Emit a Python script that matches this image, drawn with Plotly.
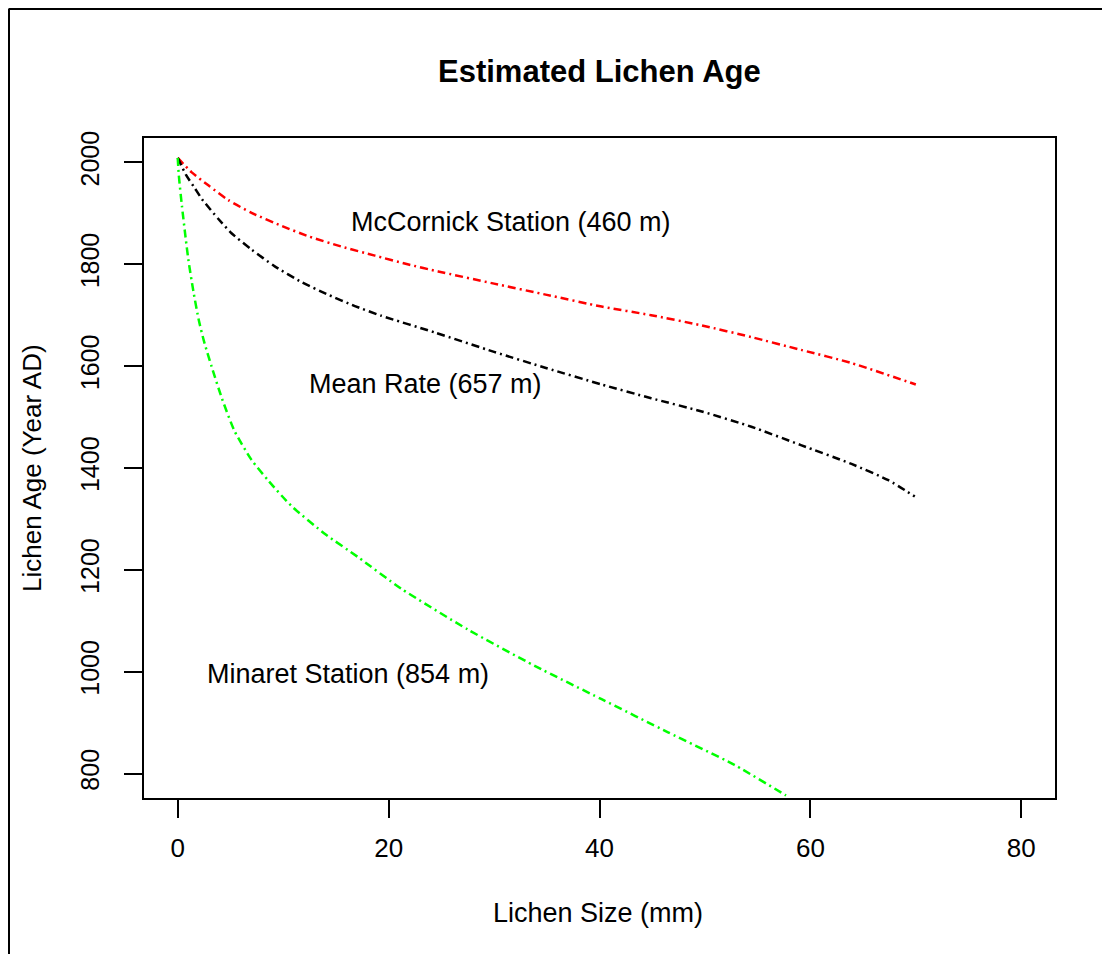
import plotly.graph_objects as go

# ---- data ----
mccornick_size = [0, 1.3, 2.9, 4.8, 7.0, 9.9, 12.4, 15.5, 18.7, 21.8, 24.7, 30, 35, 40.2, 44.9, 49.7, 54.4, 59.1, 63.9, 70]
mccornick_age = [2009, 1981, 1955, 1926, 1901, 1875, 1855, 1835, 1817, 1800, 1786, 1762, 1740, 1717, 1700, 1680, 1657, 1632, 1606, 1564]

mean_size = [0, 0.8, 1.6, 2.3, 3.9, 5.1, 7.0, 9.2, 11.75, 14.3, 16.8, 19.3, 24.4, 30, 35, 40.2, 44.9, 49.7, 54.4, 59.1, 63.9, 67.4, 69.9]
mean_age = [2009, 1975, 1950, 1928, 1888, 1861, 1829, 1796, 1765, 1740, 1718, 1699, 1666, 1628, 1596, 1564, 1537, 1511, 1481, 1445, 1408, 1376, 1344]

minaret_size = [0, 0.1, 0.4, 1.0, 1.5, 2.0, 2.5, 3.2, 4.2, 5.4, 7.0, 8.6, 10.8, 14.0, 17.1, 21.2, 27.5, 33.9, 40.2, 46.5, 52.8, 57.6, 58.0]
minaret_age = [2009, 1975, 1914, 1810, 1745, 1690, 1648, 1600, 1536, 1472, 1416, 1375, 1325, 1270, 1225, 1163, 1083, 1011, 946, 881, 817, 758, 753]

labels = ["McCornick Station (460 m)", "Mean Rate (657 m)", "Minaret Station (854 m)"]
label_x = [31.6, 23.5, 16.1]
label_y = [1884, 1565, 995]

x_ticks = [0, 20, 40, 60, 80]
y_ticks = [800, 1000, 1200, 1400, 1600, 1800, 2000]

title = "Estimated Lichen Age"
x_title = "Lichen Size (mm)"
y_title = "Lichen Age (Year AD)"

FONT = "Liberation Sans, Arial, Helvetica, sans-serif"
DASH = "8px,4px,2px,4px"

fig = go.Figure()
for xs, ys, col in [(mccornick_size, mccornick_age, "#ff0000"),
                    (mean_size, mean_age, "#000000"),
                    (minaret_size, minaret_age, "#00ff00")]:
    fig.add_trace(go.Scatter(x=xs, y=ys, mode="lines",
                             line=dict(color=col, width=2.5, dash=DASH, shape="spline", smoothing=0.6),
                             showlegend=False, hoverinfo="skip"))

for t, x, y in zip(labels, label_x, label_y):
    fig.add_annotation(x=x, y=y, xref="x", yref="y", text=t, showarrow=False,
                       xanchor="center", yanchor="middle",
                       font=dict(family=FONT, size=27, color="black"))

# title and axis titles (paper coordinates; page px converted)
fig.add_annotation(x=(599 - 144) / 911, y=(798 - 72) / 660, xref="paper", yref="paper", text="<b>" + title + "</b>",
                   showarrow=False, xanchor="center", yanchor="middle",
                   font=dict(family=FONT, size=31, color="black"))
fig.add_annotation(x=(598 - 144) / 911, y=(798 - 913) / 660, xref="paper", yref="paper", text=x_title,
                   showarrow=False, xanchor="center", yanchor="middle",
                   font=dict(family=FONT, size=27, color="black"))
fig.add_annotation(x=(32 - 144) / 911, y=0.5, xref="paper", yref="paper", text=y_title,
                   showarrow=False, xanchor="center", yanchor="middle", textangle=-90,
                   font=dict(family=FONT, size=26, color="black"))

# outer frame (top and left edges visible in the reference)
fig.add_shape(type="line", xref="paper", yref="paper",
              x0=(8.5 - 144) / 911, x1=(1120 - 144) / 911, y0=(798 - 9) / 660, y1=(798 - 9) / 660,
              line=dict(color="black", width=2))
fig.add_shape(type="line", xref="paper", yref="paper",
              x0=(9 - 144) / 911, x1=(9 - 144) / 911, y0=(798 - 9) / 660, y1=(798 - 980) / 660,
              line=dict(color="black", width=2))

fig.update_xaxes(range=[-3.2, 83.2], tickvals=x_ticks, ticktext=[str(v) for v in x_ticks],
                 showgrid=False, zeroline=False, showline=True, mirror=True,
                 linecolor="black", linewidth=1.5, ticks="outside", ticklen=18, tickwidth=1.5,
                 tickcolor="black", ticklabelstandoff=8,
                 tickfont=dict(family=FONT, size=26, color="black"))
fig.update_yaxes(range=[752, 2048], tickvals=y_ticks, ticktext=[str(v) for v in y_ticks],
                 showgrid=False, zeroline=False, showline=True, mirror=True,
                 linecolor="black", linewidth=1.5, ticks="outside", ticklen=18, tickwidth=1.5,
                 tickcolor="black", tickangle=-90, ticklabelstandoff=15,
                 tickfont=dict(family=FONT, size=25, color="black"))

# page body has an 8px margin: plot area kept at page x 144..1055, y 138..798
fig.update_layout(width=1094, height=946, autosize=False,
                  margin=dict(l=136, r=47, t=130, b=156, autoexpand=False),
                  paper_bgcolor="white", plot_bgcolor="white",
                  font=dict(family=FONT, color="black"))

fig.write_html("out.html")
